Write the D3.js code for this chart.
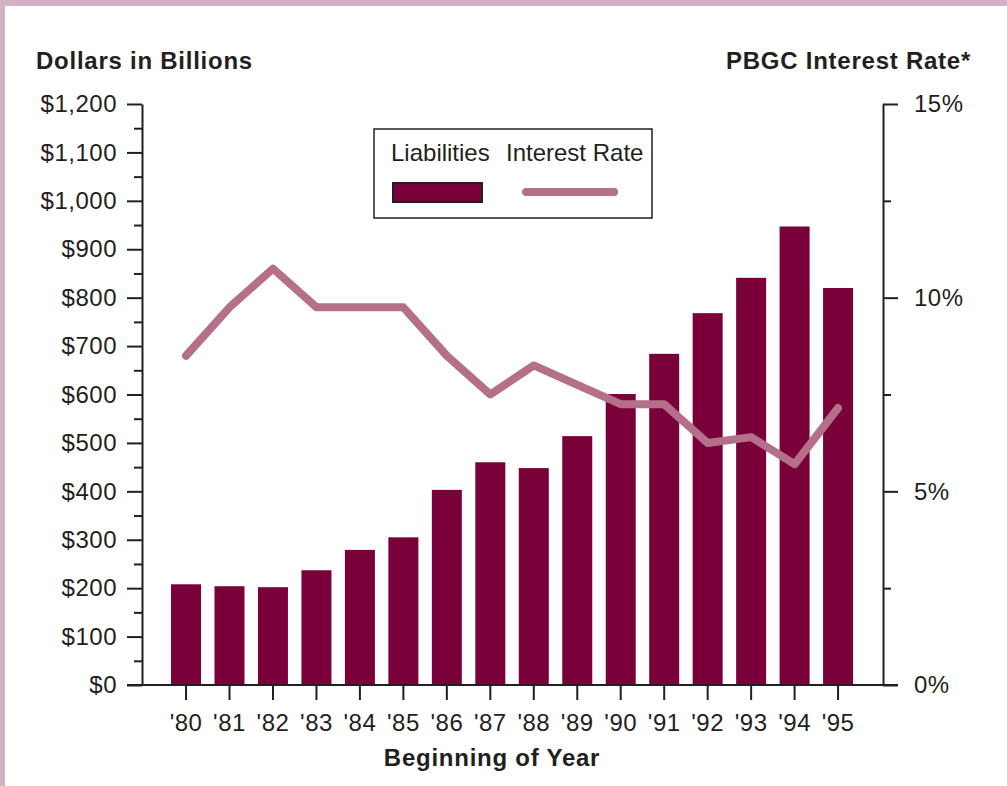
<!DOCTYPE html>
<html lang="en">
<head>
    <meta charset="UTF-8">
    <title>PBGC Liabilities and Interest Rate</title>
    <script src="https://cdnjs.cloudflare.com/ajax/libs/d3/7.8.5/d3.min.js"></script>
    <style>
        * { margin: 0; padding: 0; box-sizing: border-box; }
        body { background: #fff; width: 1007px; height: 786px; overflow: hidden; }
        svg { display: block; font-family: 'Liberation Sans', Arial, sans-serif; }
        .axis text { font-size: 24px; fill: #231f20; letter-spacing: 0.5px; }
        .axis line, .axis path { stroke: #231f20; stroke-width: 2; }
        .title { font-size: 24px; font-weight: bold; fill: #231f20; letter-spacing: 0.75px; }
        .legend-text { font-size: 24px; fill: #231f20; }
    </style>
</head>
<body>
<svg id="chart" width="1007" height="786"></svg>
<script>
    // Data
    const years = ["'80", "'81", "'82", "'83", "'84", "'85", "'86", "'87",
                   "'88", "'89", "'90", "'91", "'92", "'93", "'94", "'95"];
    const liabilities = [208, 204, 202, 237, 279, 305, 403, 460,
                         448, 514, 601, 684, 768, 841, 947, 820];
    const interestRate = [8.5, 9.75, 10.75, 9.75, 9.75, 9.75, 8.5, 7.5,
                          8.25, 7.75, 7.25, 7.25, 6.25, 6.4, 5.7, 7.15];
    const dollarTicks = [0, 100, 200, 300, 400, 500, 600, 700, 800, 900, 1000, 1100, 1200];
    const rateTicks = [0, 5, 10, 15];

    const barColor = '#7a0039';
    const lineColor = '#b56f88';

    const svg = d3.select('#chart');

    // pink frame on top and left
    svg.append('rect').attr('x', 0).attr('y', 0).attr('width', 1007).attr('height', 6).attr('fill', '#d5b2c3');
    svg.append('rect').attr('x', 0).attr('y', 0).attr('width', 5).attr('height', 786).attr('fill', '#d5b2c3');

    const plot = {left: 142, right: 883, top: 104, bottom: 685};

    const x = d3.scaleBand()
        .domain(years)
        .range([164.3, 859.8])
        .paddingInner(0.31)
        .paddingOuter(0.155);

    const yL = d3.scaleLinear().domain([0, 1200]).range([plot.bottom, plot.top]);
    const yR = d3.scaleLinear().domain([0, 15]).range([plot.bottom, plot.top]);

    // bars
    svg.append('g').selectAll('rect')
        .data(liabilities)
        .join('rect')
        .attr('x', (d, i) => x(years[i]))
        .attr('width', x.bandwidth())
        .attr('y', d => yL(d))
        .attr('height', d => yL(0) - yL(d))
        .attr('fill', barColor);

    // interest rate line
    const line = d3.line()
        .x((d, i) => x(years[i]) + x.bandwidth() / 2)
        .y(d => yR(d));

    svg.append('path')
        .datum(interestRate)
        .attr('d', line)
        .attr('fill', 'none')
        .attr('stroke', lineColor)
        .attr('stroke-width', 8)
        .attr('stroke-linecap', 'round')
        .attr('stroke-linejoin', 'round');

    // left axis
    svg.append('g')
        .attr('class', 'axis')
        .attr('transform', `translate(${plot.left},0)`)
        .call(d3.axisLeft(yL)
            .tickValues(dollarTicks)
            .tickSize(15)
            .tickSizeOuter(0)
            .tickPadding(10)
            .tickFormat(d => '$' + d3.format(',')(d)));

    svg.append('g')
        .attr('class', 'axis')
        .attr('transform', `translate(${plot.left},0)`)
        .call(d3.axisLeft(yL)
            .tickValues(d3.range(50, 1200, 100))
            .tickSize(8)
            .tickFormat(''))
        .select('.domain').remove();

    // right axis
    svg.append('g')
        .attr('class', 'axis')
        .attr('transform', `translate(${plot.right},0)`)
        .call(d3.axisRight(yR)
            .tickValues(rateTicks)
            .tickSize(15)
            .tickSizeOuter(0)
            .tickPadding(16)
            .tickFormat(d => d + '%'));

    svg.append('g')
        .attr('class', 'axis')
        .attr('transform', `translate(${plot.right},0)`)
        .call(d3.axisRight(yR)
            .tickValues([2.5, 7.5, 12.5])
            .tickSize(8)
            .tickFormat(''))
        .select('.domain').remove();

    // bottom axis
    const bottom = svg.append('g')
        .attr('class', 'axis')
        .attr('transform', `translate(0,${plot.bottom})`)
        .call(d3.axisBottom(x).tickSize(15).tickSizeOuter(0).tickPadding(14));
    bottom.select('.domain').remove();

    svg.append('line')
        .attr('x1', 127).attr('x2', 898)
        .attr('y1', plot.bottom).attr('y2', plot.bottom)
        .attr('stroke', '#231f20').attr('stroke-width', 2);

    // titles
    svg.append('text').attr('class', 'title').attr('x', 36).attr('y', 69).text('Dollars in Billions');
    svg.append('text').attr('class', 'title').attr('x', 971).attr('y', 69)
        .attr('text-anchor', 'end').text('PBGC Interest Rate*');
    svg.append('text').attr('class', 'title').attr('x', 492).attr('y', 766)
        .attr('text-anchor', 'middle').text('Beginning of Year');

    // legend
    const legend = svg.append('g');
    legend.append('rect')
        .attr('x', 374).attr('y', 129).attr('width', 278).attr('height', 89)
        .attr('fill', '#fff').attr('stroke', '#231f20').attr('stroke-width', 1.5);
    legend.append('text').attr('class', 'legend-text').attr('x', 391).attr('y', 161).text('Liabilities');
    legend.append('text').attr('class', 'legend-text').attr('x', 506).attr('y', 161).text('Interest Rate');
    legend.append('rect')
        .attr('x', 393).attr('y', 183).attr('width', 89).attr('height', 19)
        .attr('fill', barColor).attr('stroke', '#231f20').attr('stroke-width', 2);
    legend.append('line')
        .attr('x1', 526).attr('x2', 614).attr('y1', 192).attr('y2', 192)
        .attr('stroke', lineColor).attr('stroke-width', 8).attr('stroke-linecap', 'round');
</script>
</body>
</html>
